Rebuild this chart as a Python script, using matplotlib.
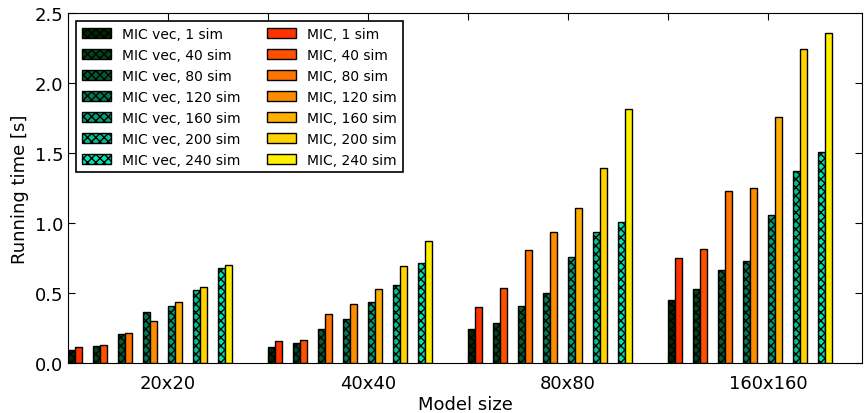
import matplotlib
matplotlib.use('Agg')
import matplotlib.pyplot as plt
import numpy as np

sizes = ['20x20', '40x40', '80x80', '160x160']
sims = [1, 40, 80, 120, 160, 200, 240]

# running time [s], rows = model size, cols = number of simulations
mic_vec = [
    [0.093, 0.119, 0.205, 0.364, 0.407, 0.519, 0.679],
    [0.117, 0.143, 0.240, 0.314, 0.438, 0.560, 0.714],
    [0.243, 0.286, 0.405, 0.502, 0.759, 0.934, 1.009],
    [0.450, 0.529, 0.664, 0.729, 1.057, 1.374, 1.505],
]
mic = [
    [0.112, 0.131, 0.217, 0.300, 0.438, 0.545, 0.698],
    [0.155, 0.164, 0.352, 0.424, 0.529, 0.690, 0.874],
    [0.398, 0.534, 0.807, 0.938, 1.109, 1.395, 1.812],
    [0.748, 0.816, 1.229, 1.250, 1.759, 2.245, 2.357],
]

vec_colors = ['#002800', '#00451a', '#005c33', '#007a50', '#00a078', '#00c090', '#00e6b0']
mic_colors = ['#ff3300', '#ff5000', '#ff7300', '#ff8c00', '#ffaf00', '#ffd200', '#fff000']

plt.rcParams['hatch.linewidth'] = 1.0

fig = plt.figure(figsize=(8.64, 4.14), dpi=100)
ax = fig.add_axes([0.0787, 0.1208, 0.9190, 0.8452])

width = 0.035
step = 0.125
mic_vec = np.array(mic_vec)
mic = np.array(mic)
pos = np.arange(len(sizes))

for j, s in enumerate(sims):
    ax.bar(pos + j * step, mic_vec[:, j], width, align='edge',
           color=vec_colors[j], edgecolor='black', hatch='xxxx',
           linewidth=1, label='MIC vec, %d sim' % s)
for j, s in enumerate(sims):
    ax.bar(pos + j * step + width, mic[:, j], width, align='edge',
           color=mic_colors[j], edgecolor='black',
           linewidth=1, label='MIC, %d sim' % s)

ax.set_xlim(0, 3.97)
ax.set_ylim(0, 2.5)
ax.set_xticks(np.arange(0, 4, 0.5))
ax.set_xticklabels(['', sizes[0], '', sizes[1], '', sizes[2], '', sizes[3]])
ax.set_yticks(np.arange(0, 2.51, 0.5))
ax.tick_params(direction='in', top=True, right=True, length=5, labelsize=13)
ax.tick_params(axis='x', pad=8)
ax.set_xlabel('Model size', fontsize=13, labelpad=2)
ax.set_ylabel('Running time [s]', fontsize=13)

leg = ax.legend(loc='upper left', ncol=2, fontsize=10, fancybox=False,
                edgecolor='black', framealpha=1, borderaxespad=0.6,
                handlelength=2.1, labelspacing=0.5, columnspacing=1.9)
leg.get_frame().set_linewidth(1.2)

fig.savefig('out.png', dpi=100)
